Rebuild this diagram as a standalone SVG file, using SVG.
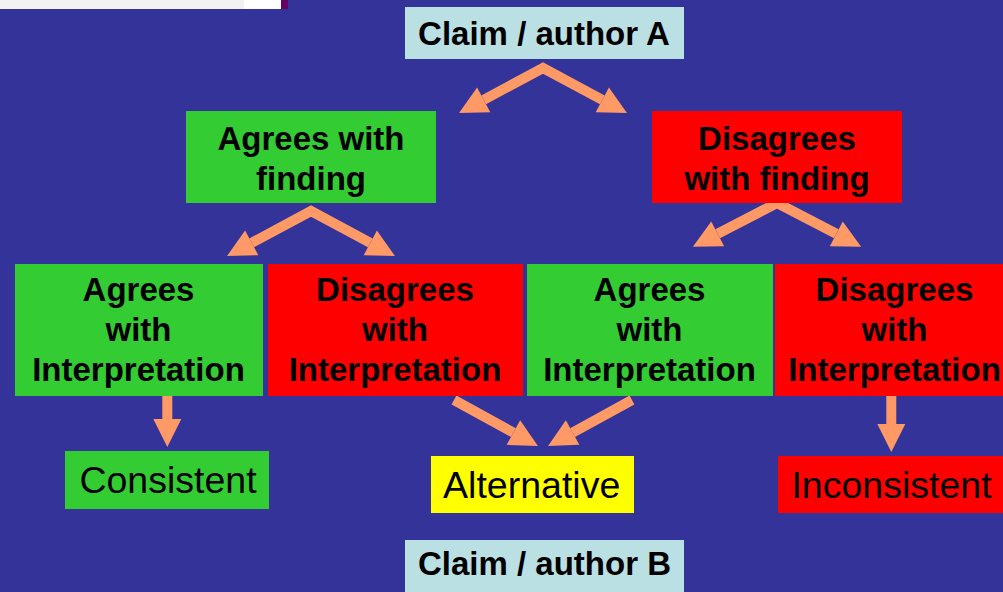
<svg xmlns="http://www.w3.org/2000/svg" width="1003" height="592" viewBox="0 0 1003 592">
<defs>
<style>
.b{font-family:"Liberation Sans",Arial,sans-serif;font-weight:bold;font-size:33px;fill:#000;text-anchor:middle}
.r{font-family:"Liberation Sans",Arial,sans-serif;font-size:37.5px;fill:#000;text-anchor:middle}
.g{fill:#33CC33}
.red{fill:#FF0000}
.c{fill:#BBE0E3}
.y{fill:#FFFF00}
.a{fill:none;stroke:#FF9966;stroke-width:10;stroke-linejoin:miter;stroke-miterlimit:10}
</style>
<marker id="ah" markerUnits="userSpaceOnUse" orient="auto-start-reverse" markerWidth="30" markerHeight="30" refX="0" refY="0" viewBox="0 -15 30 30" overflow="visible">
<path d="M0,-14 L28,0 L0,14 z" fill="#FF9966"/>
</marker>
</defs>
<rect x="0" y="0" width="1003" height="592" fill="#333399"/>
<rect x="0" y="0" width="244" height="9" fill="#F2F2F2"/>
<rect x="244" y="0" width="37" height="9" fill="#FFFFFF"/>
<rect x="281" y="0" width="7" height="9" fill="#660066"/>

<g id="connectors">
<path class="a" d="M483.7,99.8 L543,68 L602.3,99.8" marker-start="url(#ah)" marker-end="url(#ah)"/>
<path class="a" d="M251.7,242.8 L311,211 L370.3,242.8" marker-start="url(#ah)" marker-end="url(#ah)"/>
<path class="a" d="M717.7,233.8 L777,203 L836.3,233.8" marker-start="url(#ah)" marker-end="url(#ah)"/>
<path class="a" d="M167.3,396 L167.3,419" marker-end="url(#ah)"/>
<path class="a" d="M891.3,396 L891.3,424" marker-end="url(#ah)"/>
<path class="a" d="M454,400 L513.4,432.6" marker-end="url(#ah)"/>
<path class="a" d="M632,400 L572.6,432.6" marker-end="url(#ah)"/>
</g>

<g id="claimA">
<rect class="c" x="405" y="7" width="279" height="52"/>
<text class="b" x="544" y="45">Claim / author A</text>
</g>
<g id="agreesFinding">
<rect class="g" x="186" y="111" width="250" height="92"/>
<text class="b" x="311" y="150">Agrees with</text>
<text class="b" x="311" y="189.5">finding</text>
</g>
<g id="disagreesFinding">
<rect class="red" x="652" y="111" width="250" height="92"/>
<text class="b" x="777" y="150">Disagrees</text>
<text class="b" x="777" y="189.5">with finding</text>
</g>
<g id="agreesInterp1">
<rect class="g" x="15" y="264" width="248" height="132"/>
<text class="b" x="138.5" y="301.3">Agrees</text>
<text class="b" x="138.5" y="340.7">with</text>
<text class="b" x="138.5" y="380.7">Interpretation</text>
</g>
<g id="disagreesInterp1">
<rect class="red" x="268" y="264" width="255" height="132"/>
<text class="b" x="395" y="301.3">Disagrees</text>
<text class="b" x="395" y="340.7">with</text>
<text class="b" x="395" y="380.7">Interpretation</text>
</g>
<g id="agreesInterp2">
<rect class="g" x="527" y="264" width="246" height="132"/>
<text class="b" x="649.5" y="301.3">Agrees</text>
<text class="b" x="649.5" y="340.7">with</text>
<text class="b" x="649.5" y="380.7">Interpretation</text>
</g>
<g id="disagreesInterp2">
<rect class="red" x="775" y="264" width="240" height="132"/>
<text class="b" x="894.5" y="301.3">Disagrees</text>
<text class="b" x="894.5" y="340.7">with</text>
<text class="b" x="894.5" y="380.7">Interpretation</text>
</g>
<g id="consistent">
<rect class="g" x="65" y="451" width="204" height="58"/>
<text class="r" x="168" y="493.3">Consistent</text>
</g>
<g id="alternative">
<rect class="y" x="431" y="456" width="203" height="57"/>
<text class="r" x="531.7" y="498.3">Alternative</text>
</g>
<g id="inconsistent">
<rect class="red" x="778" y="456" width="230" height="57"/>
<text class="r" x="891.5" y="498.3">Inconsistent</text>
</g>
<g id="claimB">
<rect class="c" x="405" y="540" width="279" height="60"/>
<text class="b" x="544.5" y="574.7">Claim / author B</text>
</g>
</svg>
